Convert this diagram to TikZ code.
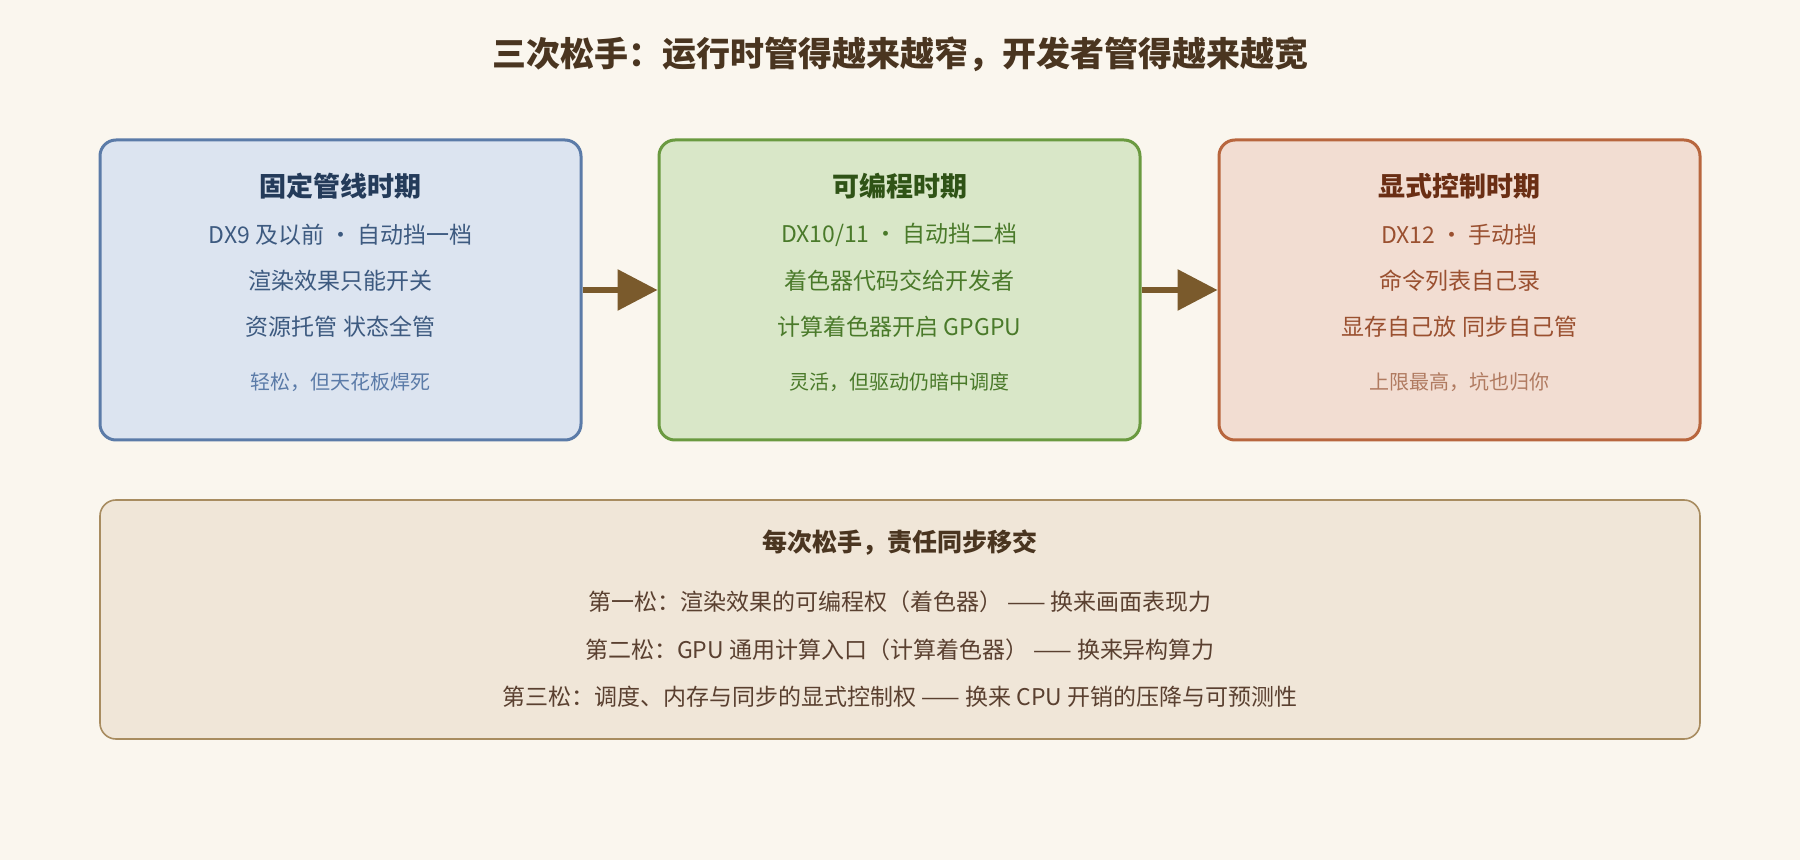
\documentclass[tikz,border=0pt]{standalone}
\usepackage{fontspec}
\setmainfont{Noto Sans CJK SC}
\usetikzlibrary{arrows.meta}
\definecolor{bg}{HTML}{FAF6EE}
\definecolor{af}{HTML}{DCE4F0}\definecolor{ab}{HTML}{5B7BA8}\definecolor{at}{HTML}{243B5A}\definecolor{ax}{HTML}{3D5A80}
\definecolor{bf}{HTML}{D9E7C8}\definecolor{bb}{HTML}{6A9A40}\definecolor{bt}{HTML}{2F5316}\definecolor{bx}{HTML}{4A7A2A}
\definecolor{cf}{HTML}{F2DDD2}\definecolor{cb}{HTML}{B8663E}\definecolor{ct}{HTML}{6A2E14}\definecolor{cx}{HTML}{9A5030}\definecolor{cs}{HTML}{B07A60}
\definecolor{df}{HTML}{F0E6D8}\definecolor{db}{HTML}{A88C60}\definecolor{dx}{HTML}{5A4030}
\definecolor{arr}{HTML}{7A5A2C}\definecolor{tt}{HTML}{4A3520}
\tikzset{
 box/.style={draw,line width=1.5pt,rounded corners=8pt,minimum width=240.5pt,minimum height=150pt},
 hd/.style={font=\fontsize{13.5}{16}\selectfont\bfseries},
 tx/.style={font=\fontsize{11.5}{14}\selectfont},
 sm/.style={font=\fontsize{10}{12}\selectfont},
 ar/.style={draw=arr,line width=3pt,-{Triangle[length=20pt,width=20pt]}}
}
\begin{document}
\begin{tikzpicture}[x=0.5pt,y=-0.5pt]
\fill[bg] (0,0) rectangle (1800,860);
\useasboundingbox (0,0) rectangle (1800,860);
\node[font=\fontsize{17}{20}\selectfont\bfseries,text=tt] (title) at (900,54) {三次松手：运行时管得越来越窄，开发者管得越来越宽};
% boxes
\node[box,draw=ab,fill=af] (b1) at (340.5,290) {};
\node[box,draw=bb,fill=bf] (b2) at (899.5,290) {};
\node[box,draw=cb,fill=cf] (b3) at (1459.5,290) {};
\node[hd,text=at] (h1) at (340.5,186) {固定管线时期};
\node[tx,text=ax] (a1) at (340.5,235) {DX9 及以前 · 自动挡一档};
\node[tx,text=ax] (a2) at (340.5,281) {渲染效果只能开关};
\node[tx,text=ax] (a3) at (340.5,327) {资源托管 状态全管};
\node[sm,text=ab] (a4) at (340.5,382) {轻松，但天花板焊死};
\node[hd,text=bt] (h2) at (899.5,186) {可编程时期};
\node[tx,text=bx] (c1) at (899.5,235) {DX10/11 · 自动挡二档};
\node[tx,text=bx] (c2) at (899.5,281) {着色器代码交给开发者};
\node[tx,text=bx] (c3) at (899.5,327) {计算着色器开启 GPGPU};
\node[sm,text=bx] (c4) at (899.5,382) {灵活，但驱动仍暗中调度};
\node[hd,text=ct] (h3) at (1459.5,186) {显式控制时期};
\node[tx,text=cx] (e1) at (1459.5,235) {DX12 · 手动挡};
\node[tx,text=cx] (e2) at (1459.5,281) {命令列表自己录};
\node[tx,text=cx] (e3) at (1459.5,327) {显存自己放 同步自己管};
\node[sm,text=cs] (e4) at (1459.5,382) {上限最高，坑也归你};
\draw[ar] (b1.east) -- (b2.west);
\draw[ar] (b2.east) -- (b3.west);
% bottom
\node[draw=db,fill=df,line width=0.8pt,rounded corners=8pt,minimum width=800pt,minimum height=119.5pt] (bot) at (900,619.5) {};
\node[font=\fontsize{12.5}{15}\selectfont\bfseries,text=tt] (bh) at (900,543) {每次松手，责任同步移交};
\node[tx,text=dx] (l1) at (900,602) {第一松：渲染效果的可编程权（着色器） —— 换来画面表现力};
\node[tx,text=dx] (l2) at (900,650) {第二松：GPU 通用计算入口（计算着色器） —— 换来异构算力};
\node[tx,text=dx] (l3) at (900,697) {第三松：调度、内存与同步的显式控制权 —— 换来 CPU 开销的压降与可预测性};
\end{tikzpicture}
\end{document}
